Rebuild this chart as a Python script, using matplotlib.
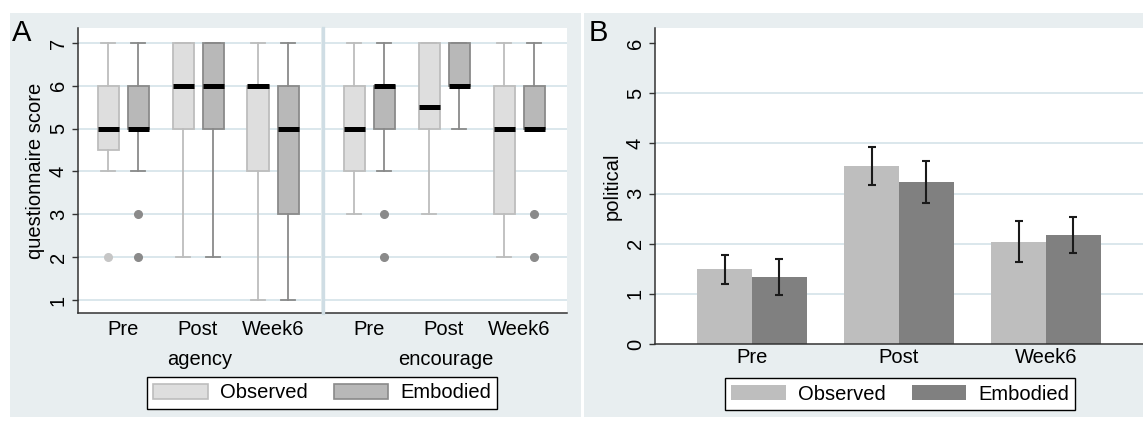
# -*- coding: utf-8 -*-
"""
Questionnaire scores (A) and political ratings (B), Observed vs Embodied
"""

import numpy as np
import matplotlib
matplotlib.use("Agg")
import matplotlib.pyplot as plt
from matplotlib.patches import Rectangle, Patch
from matplotlib.lines import Line2D

plt.rcParams['font.family'] = ['Liberation Sans', 'DejaVu Sans']

# ---------------------- DATA ---------------------- #
TIMES = ["Pre", "Post", "Week6"]
SUBSCALES = ["agency", "encourage"]
GROUPS = ["Observed", "Embodied"]

# box stats per subscale: one row per time point, [whislo, q1, med, q3, whishi]
AGENCY_OBSERVED = [[4, 4.5, 5, 6, 7], [2, 5, 6, 7, 7], [1, 4, 6, 6, 7]]
AGENCY_EMBODIED = [[4, 5, 5, 6, 7], [2, 5, 6, 7, 7], [1, 3, 5, 6, 7]]
ENCOURAGE_OBSERVED = [[3, 4, 5, 6, 7], [3, 5, 5.5, 7, 7], [2, 3, 5, 6, 7]]
ENCOURAGE_EMBODIED = [[4, 5, 6, 6, 7], [5, 6, 6, 7, 7], [5, 5, 5, 6, 7]]

AGENCY_OBSERVED_OUTLIERS = [[2], [], []]
AGENCY_EMBODIED_OUTLIERS = [[2, 3], [], []]
ENCOURAGE_OBSERVED_OUTLIERS = [[], [], []]
ENCOURAGE_EMBODIED_OUTLIERS = [[2, 3], [], [2, 3]]

# panel B: means and half-width of the error bars
POLITICAL_OBSERVED = [1.49, 3.55, 2.04]
POLITICAL_EMBODIED = [1.33, 3.23, 2.18]
POLITICAL_OBSERVED_ERR = [0.29, 0.38, 0.41]
POLITICAL_EMBODIED_ERR = [0.36, 0.41, 0.36]

# ---------------------- STYLE ---------------------- #
W, H = 1143, 421
BG = '#e8eef0'
GRID = '#dae7ec'
AXIS = '#333333'
FS = 14.5

BOX_STYLE = {
    "Observed": dict(fill='#dedede', edge='#bdbdbd', flier='#c6c6c6'),
    "Embodied": dict(fill='#b8b8b8', edge='#8a8a8a', flier='#8a8a8a'),
}
BAR_COLORS = {"Observed": '#bebebe', "Embodied": '#808080'}


def px_rect(x0, y0, x1, y1):
    """pixel box (top-left origin) -> figure fraction [l, b, w, h]"""
    return [x0 / W, 1 - y1 / H, (x1 - x0) / W, (y1 - y0) / H]


def make_stats(rows, outliers):
    stats = []
    for r, fl in zip(rows, outliers):
        stats.append(dict(whislo=r[0], q1=r[1], med=r[2], q3=r[3], whishi=r[4], fliers=fl))
    return stats


def style_axis(ax, ylim, yticks, grid_ticks, show_y=True):
    ax.set_facecolor('white')
    ax.set_ylim(*ylim)
    for y in grid_ticks:
        ax.axhline(y, color=GRID, lw=1.4, zorder=0)
    for s in ['top', 'right']:
        ax.spines[s].set_visible(False)
    ax.spines['bottom'].set_color(AXIS)
    ax.spines['bottom'].set_linewidth(1.1)
    ax.tick_params(axis='x', length=0, labelsize=FS, pad=5)
    if show_y:
        ax.spines['left'].set_color(AXIS)
        ax.spines['left'].set_linewidth(1.1)
        ax.set_yticks(yticks)
        ax.tick_params(axis='y', length=4.3, width=1, color=AXIS, labelsize=FS, pad=3)
        for lab in ax.get_yticklabels():
            lab.set_rotation(90)
            lab.set_va('center')
    else:
        ax.spines['left'].set_visible(False)
        ax.set_yticks([])


def draw_boxes(ax, observed, embodied, obs_out, emb_out):
    pos = np.arange(1, len(TIMES) + 1)
    series = [("Observed", observed, obs_out, -0.2), ("Embodied", embodied, emb_out, 0.2)]
    for name, rows, outs, shift in series:
        st = BOX_STYLE[name]
        ax.bxp(make_stats(rows, outs), positions=pos + shift, widths=0.28,
               capwidths=0.19, patch_artist=True, showfliers=True,
               boxprops=dict(facecolor=st['fill'], edgecolor=st['edge'], lw=1.3),
               whiskerprops=dict(color=st['edge'], lw=1.3),
               capprops=dict(color=st['edge'], lw=1.3),
               medianprops=dict(color='black', lw=3.6, solid_capstyle='butt'),
               flierprops=dict(marker='o', markersize=5.5, markerfacecolor=st['flier'],
                               markeredgecolor=st['flier']),
               manage_ticks=False, zorder=3)
    ax.set_xlim(0.4, 3.64)
    ax.set_xticks(pos)
    ax.set_xticklabels(TIMES)


# ---------------------- FIGURE ---------------------- #
fig = plt.figure(figsize=(W / 100, H / 100), dpi=100, facecolor='white')

# panel backgrounds (behind the axes)
for x0, x1 in [(10, 581), (584, W)]:
    bg = Rectangle((x0 / W, 1 - 417 / H), (x1 - x0) / W, (417 - 13) / H,
                   transform=fig.transFigure, facecolor=BG, edgecolor='none', zorder=-10)
    fig.add_artist(bg)

# panel A
ax_ag = fig.add_axes(px_rect(78, 28, 321, 313))
ax_en = fig.add_axes(px_rect(324, 28, 567, 313))
a_ylim = (0.696, 7.35)
a_ticks = [1, 2, 3, 4, 5, 6, 7]
style_axis(ax_ag, a_ylim, a_ticks, a_ticks, show_y=True)
style_axis(ax_en, a_ylim, a_ticks, a_ticks, show_y=False)
draw_boxes(ax_ag, AGENCY_OBSERVED, AGENCY_EMBODIED, AGENCY_OBSERVED_OUTLIERS, AGENCY_EMBODIED_OUTLIERS)
draw_boxes(ax_en, ENCOURAGE_OBSERVED, ENCOURAGE_EMBODIED, ENCOURAGE_OBSERVED_OUTLIERS, ENCOURAGE_EMBODIED_OUTLIERS)
ax_ag.set_ylabel("questionnaire score", fontsize=FS, labelpad=3)
ax_ag.set_xlabel(SUBSCALES[0], fontsize=FS, labelpad=8)
ax_en.set_xlabel(SUBSCALES[1], fontsize=FS, labelpad=8)

# separator between the two subscales
fig.add_artist(Line2D([322.5 / W, 322.5 / W], [1 - 313 / H, 1 - 28 / H], color='#cfdde4', lw=2.4))

handles_a = [Patch(facecolor=BOX_STYLE[g]['fill'], edgecolor=BOX_STYLE[g]['edge'], lw=1.2, label=g)
             for g in GROUPS]
leg_a = fig.legend(handles=handles_a, loc='center', bbox_to_anchor=(322 / W, 1 - 393 / H), ncol=2,
                   fontsize=FS, frameon=True, fancybox=False, edgecolor='black', framealpha=1,
                   handlelength=2.7, handleheight=0.7, columnspacing=1.3, handletextpad=0.6,
                   borderpad=0.3, borderaxespad=0)
leg_a.get_frame().set_linewidth(1.0)

# panel B
ax_b = fig.add_axes(px_rect(655, 28, 1143, 344))
style_axis(ax_b, (0, 6.3), [0, 1, 2, 3, 4, 5, 6], [1, 2, 3, 4, 5], show_y=True)
pos = np.arange(1, len(TIMES) + 1)
bw = 0.374
ax_b.bar(pos - bw / 2, POLITICAL_OBSERVED, width=bw, color=BAR_COLORS["Observed"], zorder=2)
ax_b.bar(pos + bw / 2, POLITICAL_EMBODIED, width=bw, color=BAR_COLORS["Embodied"], zorder=2)
ax_b.errorbar(pos - bw / 2, POLITICAL_OBSERVED, yerr=POLITICAL_OBSERVED_ERR, fmt='none',
              ecolor='#1a1a1a', elinewidth=1.5, capsize=2.6, capthick=1.5, zorder=3)
ax_b.errorbar(pos + bw / 2, POLITICAL_EMBODIED, yerr=POLITICAL_EMBODIED_ERR, fmt='none',
              ecolor='#1a1a1a', elinewidth=1.5, capsize=2.6, capthick=1.5, zorder=3)
ax_b.set_xlim(0.34, 3.66)
ax_b.set_xticks(pos)
ax_b.set_xticklabels(TIMES)
ax_b.tick_params(axis='x', pad=3)
ax_b.set_ylabel("political", fontsize=FS, labelpad=3)

handles_b = [Patch(facecolor=BAR_COLORS[g], edgecolor='none', label=g) for g in GROUPS]
leg_b = fig.legend(handles=handles_b, loc='center', bbox_to_anchor=(900 / W, 1 - 394 / H), ncol=2,
                   fontsize=FS, frameon=True, fancybox=False, edgecolor='black', framealpha=1,
                   handlelength=2.7, handleheight=0.7, columnspacing=1.3, handletextpad=0.6,
                   borderpad=0.3, borderaxespad=0)
leg_b.get_frame().set_linewidth(1.0)

# panel letters
fig.text(22 / W, 1 - 33 / H, "A", fontsize=21, ha='center', va='center')
fig.text(598 / W, 1 - 33 / H, "B", fontsize=21, ha='center', va='center')

fig.savefig("out.png", dpi=100, facecolor='white')
